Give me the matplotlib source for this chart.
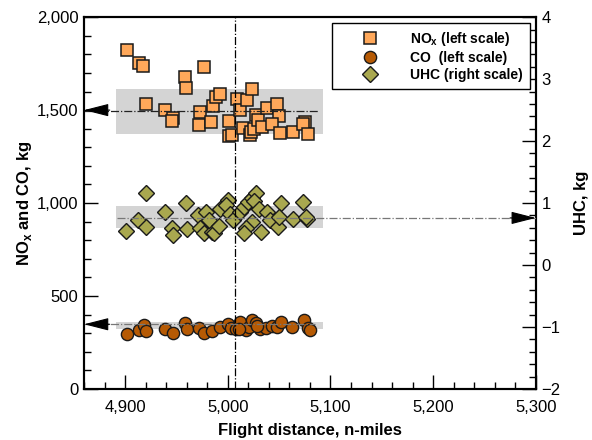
import numpy as np
import matplotlib
matplotlib.use("Agg")
import matplotlib.pyplot as plt
from matplotlib.ticker import MultipleLocator, FuncFormatter

plt.rcParams['font.family'] = ['Liberation Sans', 'DejaVu Sans']
plt.rcParams['mathtext.fontset'] = 'custom'
plt.rcParams['mathtext.bf'] = 'Liberation Sans:bold'
plt.rcParams['mathtext.rm'] = 'Liberation Sans'

# NOx (kg, left scale)
nox_x = [4902, 4914, 4917, 4977, 4958, 4959, 4920, 4939, 4947, 4946, 4973, 4972,
         4984, 4986, 4989, 4992, 5001, 5001, 5004, 5009, 5012, 5019, 5024, 5015,
         5022, 5023, 5026, 5027, 5029, 5033, 5038, 5048, 5050, 5043, 5051, 5064,
         5075, 5073, 5078]
nox_y = [1826, 1754, 1738, 1730, 1679, 1618, 1532, 1500, 1455, 1441, 1491, 1419,
         1437, 1522, 1568, 1586, 1439, 1360, 1366, 1559, 1500, 1552, 1613, 1402,
         1366, 1384, 1396, 1473, 1446, 1407, 1514, 1532, 1469, 1425, 1375, 1384,
         1434, 1423, 1369]

# CO (kg, left scale)
co_x = [4902, 4914, 4918, 4920, 4939, 4947, 4958, 4960, 4972, 4977, 4985, 4992,
        5000, 5003, 5008, 5012, 5018, 5021, 5024, 5027, 5031, 5037, 5043, 5048,
        5052, 5063, 5074, 5078, 5080, 5028, 5011]
co_y = [294, 317, 344, 312, 321, 303, 353, 321, 326, 299, 312, 335,
        348, 326, 321, 359, 317, 335, 371, 353, 321, 330, 337, 335,
        359, 335, 371, 326, 317, 340, 321]

# UHC (kg, right scale)
uhc_x = [4920, 4901, 4913, 4920, 4939, 4946, 4947, 4959, 4960, 4971, 4979, 4973,
         4977, 4985, 4987, 4982, 4991, 4992, 5000, 4998, 5002, 5005, 5012, 5016,
         5020, 5024, 5027, 5026, 5030, 5024, 5018, 5016, 5032, 5038, 5041, 5049,
         5052, 5050, 5064, 5073, 5077, 5076]
uhc_y = [1.16, 0.55, 0.72, 0.62, 0.86, 0.60, 0.48, 1.00, 0.58, 0.80, 0.86, 0.59,
         0.52, 0.54, 0.51, 0.73, 0.63, 0.91, 1.05, 0.97, 0.83, 0.73, 0.86, 0.94,
         1.02, 1.08, 1.16, 1.04, 0.91, 0.70, 0.59, 0.52, 0.54, 0.86, 0.73, 0.62,
         1.00, 0.78, 0.74, 1.01, 0.75, 0.78]

# mean lines and scatter bands
nox_mean, nox_band = 1497, (1371, 1613)
co_mean, co_band = 348, (323, 360)
uhc_mean, uhc_band = 0.76, (0.60, 0.95)
band_x = (4891, 5093)
nominal_dist = 5007

fig = plt.figure(figsize=(5.92, 4.4), dpi=100)
ax = fig.add_axes([0.142, 0.116, 0.763, 0.845])
ax2 = ax.twinx()

band_col = '#d4d4d4'
ax.fill_between(band_x, *nox_band, color=band_col, lw=0, zorder=1)
ax.fill_between(band_x, *co_band, color=band_col, lw=0, zorder=1)
ax2.fill_between(band_x, *uhc_band, color=band_col, lw=0, zorder=1)

ax.plot([4860, 5088], [nox_mean, nox_mean], color='#222222', ls='-.', lw=0.9, zorder=5)
ax.plot([4860, 5085], [co_mean, co_mean], color='#777777', ls='-.', lw=0.9, zorder=5)
ax2.plot([4892, 5300], [uhc_mean, uhc_mean], color='#777777', ls='-.', lw=0.9, zorder=5)

aprops = dict(arrowstyle='-|>,head_length=1.1,head_width=0.28', color='black',
              mutation_scale=14, lw=0.8, shrinkA=0, shrinkB=0)
ax.annotate('', xy=(4860, 1500), xytext=(4885, 1500), arrowprops=aprops, zorder=6)
ax.annotate('', xy=(4860, co_mean), xytext=(4885, co_mean), arrowprops=aprops, zorder=6)
ax2.annotate('', xy=(5300, uhc_mean), xytext=(5275, uhc_mean), arrowprops=aprops, zorder=6)

ec = '#1a1a1a'
h1, = ax.plot(nox_x, nox_y, 's', ms=8, mfc='#ffa85a', mec=ec, mew=1.1, ls='none',
              zorder=3, label='NO$_\\mathbf{x}$ (left scale)')
h2, = ax.plot(co_x, co_y, 'o', ms=8.8, mfc='#b65a04', mec=ec, mew=1.0, ls='none',
              zorder=3, label='CO  (left scale)')
h3, = ax2.plot(uhc_x, uhc_y, 'D', ms=8.5, mfc='#a9a84f', mec=ec, mew=1.0, ls='none',
               zorder=3, label='UHC (right scale)')

ax2.axvline(nominal_dist, color='black', ls='-.', lw=0.9, zorder=5)

ax.set_xlim(4860, 5300)
ax.set_ylim(0, 2000)
ax2.set_ylim(-2, 4)

ax.xaxis.set_major_locator(MultipleLocator(100))
ax.xaxis.set_minor_locator(MultipleLocator(20))
ax.yaxis.set_major_locator(MultipleLocator(500))
ax.yaxis.set_minor_locator(MultipleLocator(100))
ax2.yaxis.set_major_locator(MultipleLocator(1))
ax2.yaxis.set_minor_locator(MultipleLocator(0.2))
comma = FuncFormatter(lambda v, p: f'{v:,.0f}')
ax.xaxis.set_major_formatter(comma)
ax.yaxis.set_major_formatter(comma)

for a in (ax, ax2):
    a.tick_params(which='major', direction='in', length=10, width=1, labelsize=12, pad=4)
    a.tick_params(which='minor', direction='in', length=5, width=1)
    for s in a.spines.values():
        s.set_linewidth(1.5)
ax.tick_params(axis='x', which='major', pad=8)
ax.tick_params(axis='y', right=False, which='both')
ax2.tick_params(axis='y', left=False, which='both')

ax.set_xlabel('Flight distance, n-miles', fontsize=12, fontweight='bold', labelpad=6)
ax.set_ylabel('NO$_\\mathbf{x}$ and CO, kg', fontsize=12, fontweight='bold', labelpad=2)
ax2.set_ylabel('UHC, kg', fontsize=12, fontweight='bold', labelpad=10)

leg = ax2.legend(handles=[h1, h2, h3], loc='upper right', bbox_to_anchor=(0.987, 0.984),
                 borderaxespad=0, fancybox=False, framealpha=1, edgecolor='black',
                 prop={'weight': 'bold', 'size': 10}, handlelength=4.4,
                 handletextpad=0.7, labelspacing=0.2, borderpad=0.5)
leg.get_frame().set_linewidth(1)
leg.set_zorder(10)

fig.savefig('out.png', dpi=100)
